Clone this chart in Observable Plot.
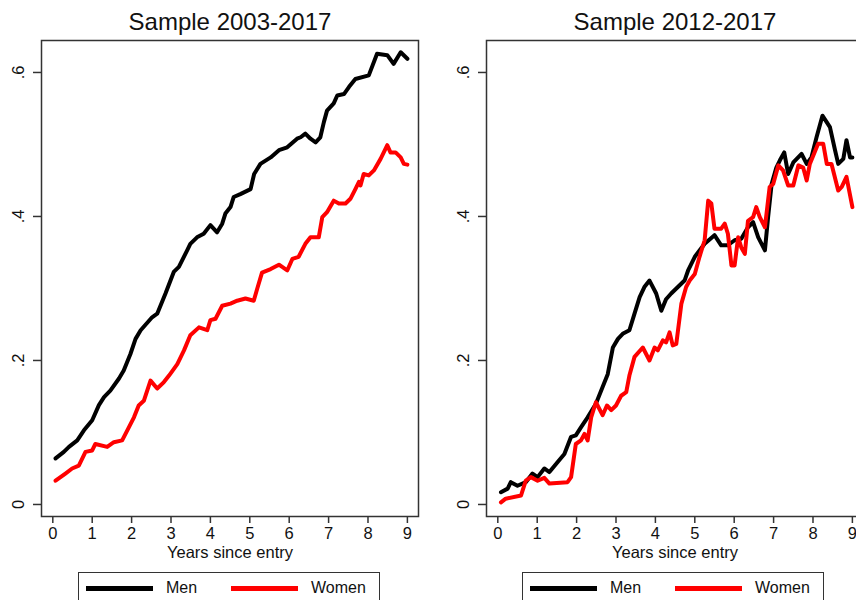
<!DOCTYPE html>
<html>
<head>
<meta charset="utf-8">
<script src="https://cdn.jsdelivr.net/npm/d3@7"></script>
<script src="https://cdn.jsdelivr.net/npm/@observablehq/plot@0.6"></script>
<style>
  html, body { margin: 0; padding: 0; background: #fff; overflow: hidden; }
  #page { position: relative; width: 856px; height: 600px; overflow: hidden; font-family: "Liberation Sans", Arial, sans-serif; color: #111; }
  .panel { position: absolute; top: 0; }
  .panel svg { display: block; }
  .legend { position: absolute; top: 572px; width: 302px; height: 40px; border: 1.5px solid #333; box-sizing: border-box; background: #fff; }
  .legend .sw { position: absolute; top: 13px; width: 67px; height: 5px; }
  .legend .lab { position: absolute; top: 6px; font-size: 16px; line-height: 18px; }
</style>
</head>
<body>
<div id="page"></div>
<script>
// ---- Data ----
const panelTitles = ["Sample 2003-2017", "Sample 2012-2017"];
const seriesNames = ["Men", "Women"];
const seriesColors = ["#000000", "#ff0000"];
const xTicks = [0, 1, 2, 3, 4, 5, 6, 7, 8, 9];
const yTicks = [0, 0.2, 0.4, 0.6];
const yTickLabels = ["0", ".2", ".4", ".6"];
const xLabel = "Years since entry";

// Sample 2003-2017
const men03X = [0.07,0.28,0.41,0.62,0.79,1.00,1.17,1.30,1.46,1.68,1.80,1.97,2.10,2.23,2.52,2.65,2.86,3.07,3.20,3.41,3.49,3.66,3.83,4.00,4.17,4.30,4.38,4.51,4.59,4.76,5.02,5.11,5.27,5.53,5.74,5.95,6.20,6.29,6.41,6.54,6.67,6.79,6.88,6.96,7.13,7.22,7.39,7.52,7.68,8.02,8.23,8.49,8.65,8.83,9.00];
const men03Y = [0.064,0.073,0.080,0.089,0.103,0.117,0.138,0.149,0.158,0.175,0.186,0.209,0.230,0.242,0.260,0.265,0.293,0.323,0.330,0.353,0.362,0.371,0.376,0.388,0.378,0.390,0.404,0.413,0.427,0.431,0.438,0.459,0.473,0.482,0.492,0.496,0.508,0.510,0.515,0.508,0.503,0.510,0.531,0.547,0.557,0.568,0.570,0.580,0.591,0.596,0.626,0.624,0.612,0.628,0.619];
const women03X = [0.07,0.32,0.49,0.66,0.83,1.00,1.08,1.38,1.55,1.76,1.93,2.06,2.18,2.31,2.48,2.65,2.82,2.95,3.16,3.33,3.49,3.71,3.92,4.00,4.13,4.30,4.51,4.68,4.89,5.10,5.19,5.31,5.53,5.74,5.95,6.08,6.24,6.41,6.54,6.75,6.84,6.96,7.13,7.26,7.43,7.56,7.68,7.77,7.81,7.89,8.02,8.15,8.32,8.49,8.57,8.70,8.83,8.91,9.00];
const women03Y = [0.033,0.043,0.050,0.054,0.073,0.075,0.084,0.080,0.0865,0.089,0.107,0.121,0.1375,0.144,0.172,0.161,0.170,0.179,0.195,0.214,0.235,0.246,0.242,0.256,0.258,0.276,0.279,0.283,0.286,0.283,0.300,0.322,0.327,0.333,0.325,0.341,0.344,0.362,0.371,0.371,0.399,0.406,0.422,0.418,0.418,0.425,0.438,0.448,0.443,0.459,0.457,0.464,0.480,0.499,0.489,0.489,0.482,0.473,0.472];

// Sample 2012-2017
const men12X = [0.08,0.25,0.33,0.50,0.71,0.88,1.01,1.18,1.31,1.52,1.69,1.86,1.98,2.11,2.28,2.49,2.66,2.79,2.92,3.05,3.17,3.34,3.47,3.60,3.72,3.85,4.02,4.15,4.27,4.40,4.57,4.74,4.83,5.00,5.25,5.50,5.67,5.84,6.01,6.18,6.35,6.48,6.61,6.78,6.86,6.95,7.07,7.16,7.27,7.37,7.50,7.71,7.84,7.96,8.09,8.24,8.43,8.56,8.64,8.77,8.85,8.94,9.00];
const men12Y = [0.017,0.022,0.031,0.026,0.031,0.043,0.038,0.050,0.045,0.059,0.070,0.094,0.096,0.107,0.121,0.140,0.163,0.181,0.218,0.230,0.237,0.242,0.265,0.288,0.302,0.311,0.293,0.269,0.285,0.293,0.302,0.311,0.325,0.344,0.362,0.374,0.360,0.360,0.367,0.369,0.385,0.392,0.371,0.353,0.399,0.445,0.468,0.478,0.489,0.459,0.475,0.487,0.473,0.482,0.510,0.540,0.524,0.492,0.473,0.480,0.506,0.482,0.482];
const women12X = [0.08,0.20,0.59,0.71,0.84,1.01,1.18,1.31,1.77,1.86,1.98,2.11,2.20,2.28,2.37,2.49,2.66,2.77,2.88,3.00,3.13,3.26,3.34,3.47,3.68,3.85,3.98,4.06,4.19,4.27,4.36,4.44,4.53,4.66,4.78,4.87,5.00,5.12,5.25,5.34,5.42,5.50,5.67,5.76,5.84,5.93,6.01,6.10,6.18,6.27,6.35,6.48,6.56,6.65,6.78,6.90,6.99,7.12,7.24,7.37,7.50,7.63,7.75,7.84,7.92,8.13,8.26,8.35,8.47,8.64,8.73,8.85,9.00];
const women12Y = [0.003,0.008,0.0125,0.033,0.038,0.033,0.037,0.029,0.031,0.038,0.084,0.089,0.098,0.089,0.121,0.142,0.124,0.1375,0.131,0.1375,0.151,0.156,0.179,0.205,0.218,0.200,0.218,0.214,0.228,0.225,0.239,0.221,0.223,0.279,0.302,0.311,0.320,0.344,0.367,0.422,0.418,0.383,0.383,0.390,0.376,0.332,0.332,0.371,0.357,0.348,0.394,0.399,0.413,0.399,0.385,0.441,0.445,0.471,0.464,0.443,0.443,0.471,0.468,0.450,0.473,0.501,0.501,0.473,0.473,0.436,0.441,0.455,0.413];

const panels = [
  {title: panelTitles[0], series: [[men03X, men03Y], [women03X, women03Y]], left: 0, marginLeft: 41, width: 430, legendLeft: 78},
  {title: panelTitles[1], series: [[men12X, men12Y], [women12X, women12Y]], left: 428, marginLeft: 58, width: 444, legendLeft: 94}
];

const page = document.getElementById("page");
const ink = "#111";
const axisInk = "#333";

panels.forEach(p => {
  const rows = [];
  p.series.forEach(([xs, ys], i) => xs.forEach((x, j) => rows.push({x, y: ys[j], s: seriesNames[i]})));
  const frameWidth = 377;
  const chart = Plot.plot({
    width: p.width,
    height: 568,
    marginLeft: p.marginLeft,
    marginRight: p.width - p.marginLeft - frameWidth,
    marginTop: 40,
    marginBottom: 52,
    style: {fontFamily: "'Liberation Sans', Arial, sans-serif", color: ink, background: "#fff", overflow: "visible"},
    x: {domain: [-0.287, 9.282], label: null},
    y: {domain: [-0.0167, 0.6444], label: null},
    color: {domain: seriesNames, range: seriesColors},
    marks: [
      Plot.line(rows, {x: "x", y: "y", z: "s", stroke: "s", strokeWidth: 4, curve: "linear", strokeLinejoin: "round", strokeLinecap: "round"}),
      Plot.frame({stroke: axisInk, strokeWidth: 1.5}),
      Plot.axisX({ticks: xTicks, tickSize: 7, tickPadding: 4, fontSize: 16.5, stroke: axisInk, strokeWidth: 1.5, fill: ink, label: null, tickFormat: d => String(d)}),
      Plot.axisY({ticks: yTicks, tickSize: 8, stroke: axisInk, strokeWidth: 1.5, tickFormat: () => "", label: null}),
      Plot.text(yTicks, {y: d => d, frameAnchor: "left", dx: -23, rotate: -90, text: (d, i) => yTickLabels[i], fontSize: 16.5, fill: ink, textAnchor: "middle", lineAnchor: "middle"}),
      Plot.text([xLabel], {frameAnchor: "bottom", dy: 41, text: d => d, fontSize: 16.5, fill: ink, lineAnchor: "bottom"}),
      Plot.text([p.title], {frameAnchor: "top", dy: -11, text: d => d, fontSize: 24, fill: ink, lineAnchor: "bottom"})
    ]
  });
  const div = document.createElement("div");
  div.className = "panel";
  div.style.left = p.left + "px";
  div.style.width = p.width + "px";
  div.appendChild(chart);

  const leg = document.createElement("div");
  leg.className = "legend";
  leg.style.left = p.legendLeft + "px";
  const swLeft = [7, 152], labLeft = [87, 232];
  seriesNames.forEach((name, i) => {
    const sw = document.createElement("div");
    sw.className = "sw";
    sw.style.left = swLeft[i] + "px";
    sw.style.background = seriesColors[i];
    leg.appendChild(sw);
    const lab = document.createElement("div");
    lab.className = "lab";
    lab.style.left = labLeft[i] + "px";
    lab.textContent = name;
    leg.appendChild(lab);
  });
  div.appendChild(leg);
  page.appendChild(div);
});
</script>
</body>
</html>
